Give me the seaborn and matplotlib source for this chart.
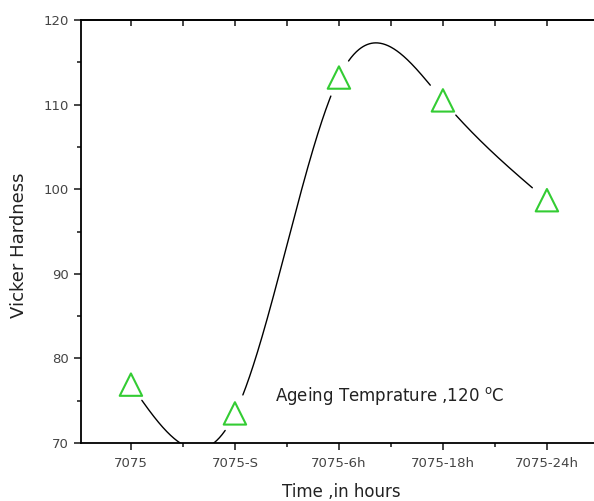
import numpy as np
import pandas as pd
import matplotlib
matplotlib.use("Agg")
import matplotlib.pyplot as plt
import seaborn as sns

categories = ["7075", "7075-S", "7075-6h", "7075-18h", "7075-24h"]
hardness = [76.9, 73.5, 113.2, 110.5, 98.7]
y_ticks = [70, 80, 90, 100, 110, 120]

sns.set_style("white")
plt.rcParams['font.family'] = ['DejaVu Sans']


def natural_spline(x, y, xs):
    x = np.asarray(x, float); y = np.asarray(y, float)
    n = len(x)
    h = np.diff(x)
    A = np.zeros((n, n)); b = np.zeros(n)
    A[0, 0] = 1; A[-1, -1] = 1
    for i in range(1, n - 1):
        A[i, i - 1] = h[i - 1]
        A[i, i] = 2 * (h[i - 1] + h[i])
        A[i, i + 1] = h[i]
        b[i] = 3 * ((y[i + 1] - y[i]) / h[i] - (y[i] - y[i - 1]) / h[i - 1])
    c = np.linalg.solve(A, b)
    out = np.empty_like(xs)
    for k, xv in enumerate(xs):
        i = min(max(np.searchsorted(x, xv) - 1, 0), n - 2)
        dx = xv - x[i]
        bi = (y[i + 1] - y[i]) / h[i] - h[i] * (2 * c[i] + c[i + 1]) / 3
        di = (c[i + 1] - c[i]) / (3 * h[i])
        out[k] = y[i] + bi * dx + c[i] * dx ** 2 + di * dx ** 3
    return out


xi = np.arange(len(categories), dtype=float)
xs = np.linspace(0, len(categories) - 1, 800)
ys = natural_spline(xi, hardness, xs)

# gaps around markers (in approximate pixel units)
px_x, px_y = 104.0, 8.46
mask = np.ones_like(xs, dtype=bool)
for xv, yv in zip(xi, hardness):
    d = np.hypot((xs - xv) * px_x, (ys - yv) * px_y)
    mask &= d > 19
ys_plot = np.where(mask, ys, np.nan)

fig = plt.figure(figsize=(5.94, 5.01), dpi=100)
ax = fig.add_axes([81 / 594, 1 - 443 / 501, 520 / 594, 423 / 501])

curve = pd.DataFrame({"x": xs, "y": ys_plot})
ax.plot(curve["x"], curve["y"], color="black", lw=1.0)
pts = pd.DataFrame({"x": xi, "y": hardness})
sns.scatterplot(data=pts, x="x", y="y", marker="^", s=260, facecolor="none",
                edgecolor="#33cc33", linewidth=1.5, ax=ax, zorder=3)

ax.set_xlim(-0.48, 4.52)
ax.set_ylim(70, 120)
ax.set_xticks(xi)
ax.set_xticklabels(categories)
ax.set_xticks(xi[:-1] + 0.5, minor=True)
ax.set_yticks(y_ticks)
ax.set_yticks(np.arange(75, 120, 10), minor=True)
ax.tick_params(axis="x", which="both", direction="out", bottom=True, top=False,
               labelsize=9.5, labelcolor="#444444", length=5, width=1.2, pad=5)
ax.tick_params(axis="x", which="minor", length=3)
ax.tick_params(axis="y", which="both", direction="out", left=True,
               labelsize=9.5, labelcolor="#444444", length=5, width=1.2, pad=4)
ax.tick_params(axis="y", which="minor", length=3)
for s in ["left", "bottom", "top", "right"]:
    ax.spines[s].set_color("black")
    ax.spines[s].set_linewidth(1.3)

top = ax.secondary_xaxis("top")
top.set_xticks(xi)
top.set_xticks(xi[:-1] + 0.5, minor=True)
top.tick_params(axis="x", which="both", direction="in", length=4, width=1.2,
                labeltop=False)
top.spines["top"].set_linewidth(1.3)

ax.set_xlabel("")
ax.set_ylabel("")
fig.text(341 / 594, 1 - 492 / 501, "Time ,in hours", fontsize=12,
         color="#222222", ha="center", va="center")
fig.text(19 / 594, 1 - 245 / 501, "Vicker Hardness", fontsize=13,
         color="#222222", ha="center", va="center", rotation=90)
ax.text(1.39, 75.0, r"Ageing Temprature ,120 $^{\mathrm{o}}$C", fontsize=12,
        color="#222222", va="baseline")

fig.savefig("out.png", dpi=100)
